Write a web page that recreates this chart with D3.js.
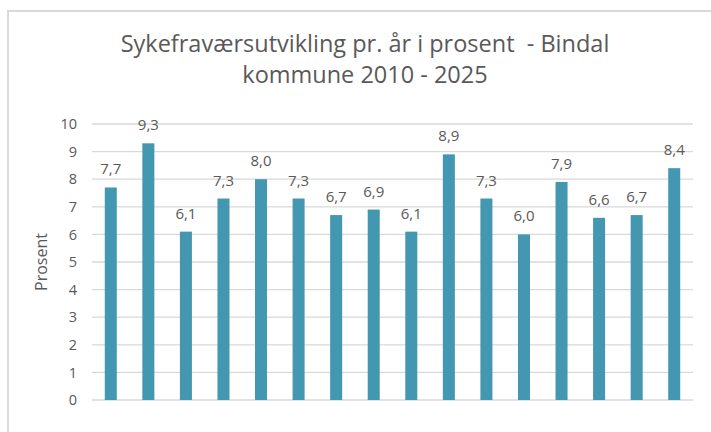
<!DOCTYPE html>
<html>
<head>
<meta charset="utf-8">
<script src="https://cdn.jsdelivr.net/npm/d3@7"></script>
<style>
  html, body { margin: 0; padding: 0; background: #fff; }
  #chart { width: 711px; height: 432px; }
  text { font-family: "Open Sans", "Noto Sans", sans-serif; fill: #595959; white-space: pre; }
</style>
</head>
<body>
<div id="chart"></div>
<script>
// 数据
const years = ["2010", "2011", "2012", "2013", "2014", "2015", "2016", "2017",
               "2018", "2019", "2020", "2021", "2022", "2023", "2024", "2025"];
const values = [7.7, 9.3, 6.1, 7.3, 8.0, 7.3, 6.7, 6.9, 6.1, 8.9, 7.3, 6.0, 7.9, 6.6, 6.7, 8.4];
const yTicks = [0, 1, 2, 3, 4, 5, 6, 7, 8, 9, 10];
const titleLines = ["Sykefraværsutvikling pr. år i prosent  - Bindal", "kommune 2010 - 2025"];
const yTitle = "Prosent";

const W = 711, H = 432;
const svg = d3.select("#chart").append("svg")
    .attr("width", W)
    .attr("height", H);

// 外框
svg.append("rect")
    .attr("x", 8).attr("y", 11)
    .attr("width", 740).attr("height", 440)
    .attr("fill", "none")
    .attr("stroke", "#d9d9d9")
    .attr("stroke-width", 2);

const plotLeft = 92, plotRight = 693, plotTop = 124, plotBottom = 400;

const x = d3.scaleBand()
    .domain(years)
    .range([plotLeft, plotRight])
    .paddingInner(0.68)
    .paddingOuter(0.34);

const y = d3.scaleLinear()
    .domain([0, 10])
    .range([plotBottom, plotTop]);

// 网格线
svg.append("g")
    .selectAll("line")
    .data(yTicks)
    .join("line")
    .attr("x1", plotLeft).attr("x2", plotRight)
    .attr("y1", d => y(d)).attr("y2", d => y(d))
    .attr("stroke", "#d9d9d9")
    .attr("stroke-width", 1.3);

// y 轴
const yAxis = svg.append("g")
    .attr("transform", `translate(${plotLeft - 15},0)`)
    .call(d3.axisLeft(y).tickValues(yTicks).tickSize(0).tickPadding(0));
yAxis.select(".domain").remove();
yAxis.selectAll("text")
    .attr("font-size", 14.5)
    .style("font-family", "'Open Sans', sans-serif")
    .attr("fill", "#595959");

// 柱子
svg.append("g")
    .selectAll("rect")
    .data(values)
    .join("rect")
    .attr("x", (d, i) => x(years[i]))
    .attr("y", d => y(d))
    .attr("width", x.bandwidth())
    .attr("height", d => y(0) - y(d))
    .attr("fill", "#4397b0");

// 数据标签
const fmt = d => d3.format(".1f")(d).replace(".", ",");
svg.append("g")
    .selectAll("text")
    .data(values)
    .join("text")
    .attr("x", (d, i) => x(years[i]) + x.bandwidth() / 2)
    .attr("y", d => y(d) - 13)
    .attr("text-anchor", "middle")
    .attr("font-size", 15)
    .text(fmt);

// 标题
svg.append("g")
    .selectAll("text")
    .data(titleLines)
    .join("text")
    .attr("x", 365)
    .attr("y", (d, i) => 52 + i * 31)
    .attr("text-anchor", "middle")
    .attr("font-size", 23.5)
    .text(d => d);

// y 轴标题
svg.append("text")
    .attr("transform", `translate(47,${(plotTop + plotBottom) / 2}) rotate(-90)`)
    .attr("text-anchor", "middle")
    .attr("font-size", 16)
    .text(yTitle);
</script>
</body>
</html>
